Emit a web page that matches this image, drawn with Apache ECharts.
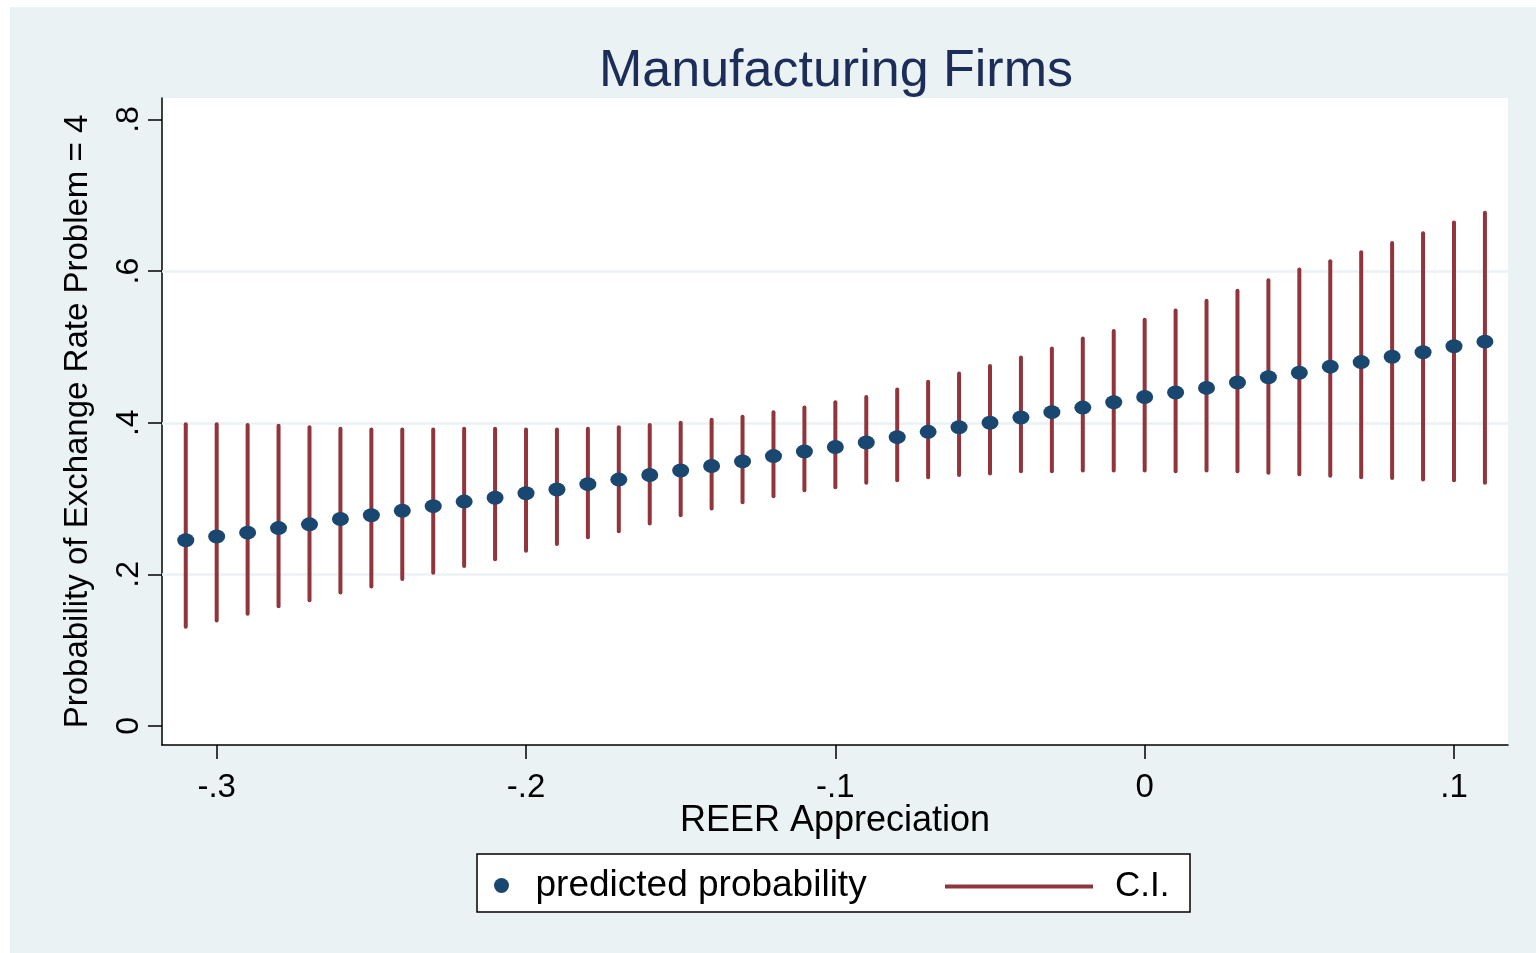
<!DOCTYPE html>
<html>
<head>
<meta charset="utf-8">
<title>Manufacturing Firms</title>
<script src="https://cdn.jsdelivr.net/npm/echarts@6/dist/echarts.min.js"></script>
<style>
  html, body { margin: 0; padding: 0; background: #ffffff; width: 1536px; height: 953px; overflow: hidden; }
  #chart { position: absolute; left: 10px; top: 7px; width: 1526px; height: 946px; }
</style>
</head>
<body>
<div id="chart"></div>
<script>
// REER appreciation grid at which the model was evaluated
const reer = [-0.31, -0.30, -0.29, -0.28, -0.27, -0.26, -0.25, -0.24, -0.23, -0.22,
              -0.21, -0.20, -0.19, -0.18, -0.17, -0.16, -0.15, -0.14, -0.13, -0.12,
              -0.11, -0.10, -0.09, -0.08, -0.07, -0.06, -0.05, -0.04, -0.03, -0.02,
              -0.01, 0.00, 0.01, 0.02, 0.03, 0.04, 0.05, 0.06, 0.07, 0.08,
              0.09, 0.10, 0.11];

// Predicted probability that the exchange-rate problem is rated 4
const predicted = [0.245, 0.250, 0.255, 0.261, 0.266, 0.273, 0.278, 0.284, 0.290, 0.296,
                   0.301, 0.307, 0.312, 0.319, 0.325, 0.331, 0.337, 0.343, 0.349, 0.356,
                   0.362, 0.368, 0.374, 0.381, 0.388, 0.394, 0.400, 0.407, 0.414, 0.420,
                   0.427, 0.434, 0.440, 0.446, 0.453, 0.460, 0.466, 0.474, 0.480, 0.487,
                   0.493, 0.501, 0.507];

// Confidence interval bounds
const ciLower = [0.131, 0.139, 0.148, 0.158, 0.166, 0.176, 0.184, 0.194, 0.202, 0.211,
                 0.220, 0.231, 0.240, 0.249, 0.257, 0.267, 0.278, 0.287, 0.295, 0.303,
                 0.311, 0.315, 0.321, 0.324, 0.328, 0.331, 0.333, 0.336, 0.336, 0.337,
                 0.337, 0.337, 0.336, 0.337, 0.336, 0.334, 0.332, 0.330, 0.328, 0.327,
                 0.325, 0.324, 0.321];
const ciUpper = [0.398, 0.398, 0.397, 0.396, 0.394, 0.392, 0.391, 0.391, 0.391, 0.392,
                 0.392, 0.391, 0.391, 0.392, 0.394, 0.397, 0.400, 0.404, 0.408, 0.414,
                 0.420, 0.427, 0.434, 0.444, 0.454, 0.465, 0.475, 0.486, 0.498, 0.511,
                 0.521, 0.536, 0.548, 0.561, 0.574, 0.588, 0.602, 0.613, 0.625, 0.637,
                 0.650, 0.664, 0.677];

// Axis ticks and their printed labels
const xTicks = [-0.3, -0.2, -0.1, 0, 0.1];
const xTickLabels = ['-.3', '-.2', '-.1', '0', '.1'];
const yTicks = [0, 0.2, 0.4, 0.6, 0.8];
const yTickLabels = ['0', '.2', '.4', '.6', '.8'];
const yGridValues = [0.2, 0.4, 0.6];

const FONT = "'Liberation Sans', Arial, Helvetica, sans-serif";
const NAVY = '#1a476f';
const MAROON = '#90353b';
const PANEL = '#eaf2f3';

function tickLabel(ticks, labels) {
  return function (v) {
    const i = ticks.findIndex(t => Math.abs(t - v) < 1e-9);
    return i >= 0 ? labels[i] : '';
  };
}

const chart = echarts.init(document.getElementById('chart'));

chart.setOption({
  animation: false,
  backgroundColor: PANEL,
  title: {
    text: 'Manufacturing Firms',
    left: 821,
    top: 34,
    textAlign: 'center',
    textStyle: { fontFamily: FONT, fontSize: 52, fontWeight: 'normal', color: '#1c2d58' }
  },
  grid: {
    left: 152, right: 28, top: 91, bottom: 208,
    show: true, backgroundColor: '#ffffff', borderWidth: 0
  },
  xAxis: {
    type: 'value',
    min: -0.31768, max: 0.11746,
    name: 'REER Appreciation',
    nameLocation: 'middle',
    nameGap: 58,
    nameMoveOverlap: false,
    nameTextStyle: { fontFamily: FONT, fontSize: 36, color: '#000' },
    axisLine: { show: true, onZero: false, lineStyle: { color: '#000', width: 1.5 } },
    axisTick: { show: true, length: 14, customValues: xTicks, lineStyle: { color: '#000', width: 1.5 } },
    axisLabel: { customValues: xTicks, margin: 26, formatter: tickLabel(xTicks, xTickLabels),
                 fontFamily: FONT, fontSize: 33, color: '#000' },
    splitLine: { show: false }
  },
  yAxis: {
    type: 'value',
    min: -0.0251, max: 0.8284,
    name: 'Probability of Exchange Rate Problem = 4',
    nameLocation: 'middle',
    nameGap: 68,
    nameMoveOverlap: false,
    nameTextStyle: { fontFamily: FONT, fontSize: 33, color: '#000' },
    axisLine: { show: true, onZero: false, lineStyle: { color: '#000', width: 1.5 } },
    axisTick: { show: true, length: 14, customValues: yTicks, lineStyle: { color: '#000', width: 1.5 } },
    axisLabel: { customValues: yTicks, rotate: 90, margin: 17, formatter: tickLabel(yTicks, yTickLabels),
                 fontFamily: FONT, fontSize: 32, color: '#000' },
    splitLine: { show: false }
  },
  legend: [
    {
      data: ['predicted probability'],
      left: 479, top: 855,
      icon: 'circle',
      itemWidth: 58, itemHeight: 15,
      selectedMode: false,
      textStyle: { fontFamily: FONT, fontSize: 37, color: '#000', padding: [6, 0, 0, 0] }
    },
    {
      data: ['C.I.'],
      left: 930, top: 857,
      icon: 'rect',
      itemWidth: 148, itemHeight: 4,
      selectedMode: false,
      textStyle: { fontFamily: FONT, fontSize: 35, color: '#000', padding: [0, 0, 0, 17] }
    }
  ],
  graphic: [
    {
      type: 'rect', z: 0,
      shape: { x: 467, y: 847, width: 713, height: 58 },
      style: { fill: '#ffffff', stroke: '#000000', lineWidth: 1.5 }
    }
  ],
  series: [
    {
      // horizontal reference lines at the inner ticks
      type: 'line',
      data: [],
      silent: true,
      markLine: {
        z: 1,
        silent: true,
        symbol: 'none',
        label: { show: false },
        lineStyle: { color: PANEL, width: 2.5, type: 'solid' },
        data: yGridValues.map(v => ({ yAxis: v }))
      }
    },
    {
      name: 'C.I.',
      type: 'custom',
      z: 3,
      itemStyle: { color: MAROON },
      encode: { x: 0, y: [1, 2] },
      data: reer.map((x, i) => [x, ciLower[i], ciUpper[i]]),
      renderItem: function (params, api) {
        const lo = api.coord([api.value(0), api.value(1)]);
        const hi = api.coord([api.value(0), api.value(2)]);
        return {
          type: 'line',
          shape: { x1: lo[0], y1: lo[1], x2: hi[0], y2: hi[1] },
          style: { stroke: MAROON, lineWidth: 4, lineCap: 'round' }
        };
      }
    },
    {
      name: 'predicted probability',
      type: 'scatter',
      z: 4,
      symbol: 'circle',
      symbolSize: [17, 14],
      itemStyle: { color: NAVY, opacity: 1 },
      data: reer.map((x, i) => [x, predicted[i]])
    }
  ]
});
</script>
</body>
</html>
